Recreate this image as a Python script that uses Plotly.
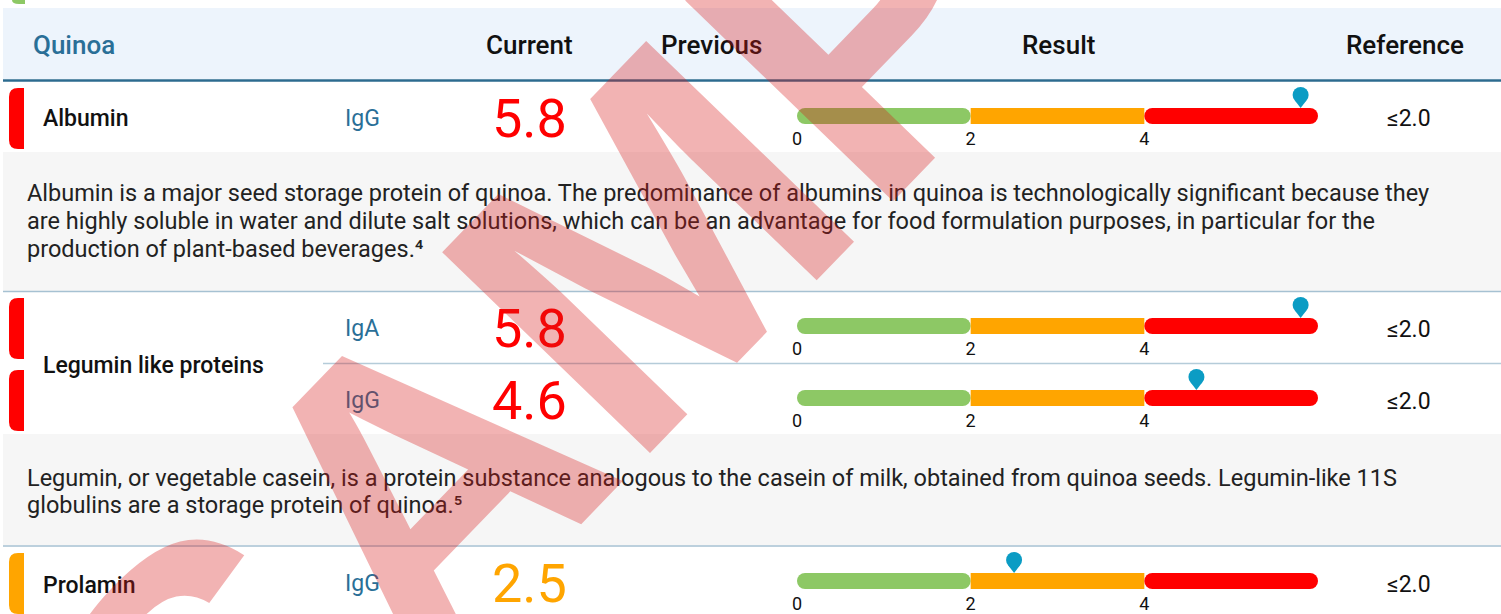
import plotly.graph_objects as go

W, H = 1501, 614

# ---------------- data ----------------
section_title = "Quinoa"
column_titles = ["Current", "Previous", "Result", "Reference"]
allergens = ["Albumin", "Legumin like proteins", "Prolamin"]
antibodies = ["IgG", "IgA", "IgG", "IgG"]
current_values = [5.8, 5.8, 4.6, 2.5]
reference_ranges = ["≤2.0", "≤2.0", "≤2.0", "≤2.0"]
scale_bounds = [0, 2, 4, 6]
scale_ticks = [0, 2, 4]
scale_tick_labels = ["0", "2", "4"]
description_albumin = [
    "Albumin is a major seed storage protein of quinoa. The predominance of albumins in quinoa is technologically significant because they",
    "are highly soluble in water and dilute salt solutions, which can be an advantage for food formulation purposes, in particular for the",
    "production of plant-based beverages.⁴",
]
description_legumin = [
    "Legumin, or vegetable casein, is a protein substance analogous to the casein of milk, obtained from quinoa seeds. Legumin-like 11S",
    "globulins are a storage protein of quinoa.⁵",
]
watermark_text = "SAMPLE"

# ---------------- styling / layout ----------------
SEG_COLORS = ["#8DC865", "#FFA500", "#FF0000"]
PIN_COLOR = "#0B9CC4"
BLUE_TXT = "#2A6F97"
FONT = "Roboto"

row_tops = [82, 292, 364, 547]
label_y = [119, 365, 585]
desc_bands = [(152, 291), (434, 545)]
desc_line_y = [[193, 221, 249], [478, 505]]


def X(px):
    return px / W


def Y(py):
    return 1 - py / H


def status_color(v):
    for k in range(len(scale_bounds) - 1):
        if v < scale_bounds[k + 1]:
            return SEG_COLORS[k]
    return SEG_COLORS[-1]


def ann(text, x, y, size, color, xanchor="left", weight=400, family=FONT):
    return dict(text=text, x=X(x), y=Y(y), xref="paper", yref="paper",
                xanchor=xanchor, yanchor="middle", showarrow=False,
                font=dict(family=family, size=size, color=color, weight=weight))


shapes = []
annotations = []

# header band
shapes.append(dict(type="rect", xref="paper", yref="paper", x0=X(3), x1=X(W), y0=Y(79), y1=Y(8),
                   fillcolor="#EDF4FC", line=dict(width=0), layer="below"))
shapes.append(dict(type="line", xref="paper", yref="paper", x0=X(3), x1=X(W), y0=Y(80.5), y1=Y(80.5),
                   line=dict(color="#2C6B8F", width=2.5), layer="below"))
# remains of the previous section pill at the top
shapes.append(dict(type="path", xref="paper", yref="paper",
                   path=f"M {X(12)},{Y(0)} L {X(25)},{Y(0)} L {X(25)},{Y(4)} L {X(19)},{Y(4)} Q {X(12)},{Y(4)} {X(12)},{Y(0)} Z",
                   fillcolor="#8DC865", line=dict(width=0), layer="below"))

# description bands and separators
for (y0, y1) in desc_bands:
    shapes.append(dict(type="rect", xref="paper", yref="paper", x0=X(3), x1=X(W), y0=Y(y1), y1=Y(y0),
                       fillcolor="#F6F6F6", line=dict(width=0), layer="below"))
for ys in [291.5, 546]:
    shapes.append(dict(type="line", xref="paper", yref="paper", x0=X(3), x1=X(W), y0=Y(ys), y1=Y(ys),
                       line=dict(color="#A6C1D2", width=1.5), layer="below"))
shapes.append(dict(type="line", xref="paper", yref="paper", x0=X(323), x1=X(W), y0=Y(363.5), y1=Y(363.5),
                   line=dict(color="#B5CCD9", width=1.5), layer="below"))

# header titles
annotations.append(ann(section_title, 31, 45, 26, BLUE_TXT, weight=500))
for title, cx in zip(column_titles, [529, 711, 1058, 1405]):
    annotations.append(ann(title, cx, 45, 26, "#111111", xanchor="center", weight=500))

# allergen names
for name, ly in zip(allergens, label_y):
    annotations.append(ann(name, 41, ly, 23, "#111111", weight=500))

# descriptions
for lines, ys in zip([description_albumin, description_legumin], desc_line_y):
    for line, yy in zip(lines, ys):
        annotations.append(ann(line, 25, yy, 23.5, "#222222"))

fig = go.Figure()

GAUGE_H = 44              # px height of each gauge plot area
BAR_Y = 10                # bar centre (px above plot bottom)
PIN_Y_CIRCLE = 31
PIN_Y_TRI = 23
GX0, GX1 = 780, 1340      # gauge subplot horizontal domain (px)
S0, S1 = 797, 1318        # pixel positions of scale start / end
scale_px = (S1 - S0) / (scale_bounds[-1] - scale_bounds[0])
x_range = [scale_bounds[0] - (S0 - GX0) / scale_px, scale_bounds[-1] + (GX1 - S1) / scale_px]

for i, (ab, val, ref) in enumerate(zip(antibodies, current_values, reference_ranges)):
    top = row_tops[i]
    col = status_color(val)
    # status pill
    x0p, x1p, r = 9, 24, 9
    py0, py1 = top + 6, top + 67
    shapes.append(dict(type="path", xref="paper", yref="paper",
                       path=(f"M {X(x1p)},{Y(py0)} L {X(x0p + r)},{Y(py0)} Q {X(x0p)},{Y(py0)} {X(x0p)},{Y(py0 + r)} "
                             f"L {X(x0p)},{Y(py1 - r)} Q {X(x0p)},{Y(py1)} {X(x0p + r)},{Y(py1)} L {X(x1p)},{Y(py1)} Z"),
                       fillcolor=col, line=dict(width=0), layer="below"))
    # texts
    annotations.append(ann(ab, 343, top + 36.5, 23, BLUE_TXT))
    annotations.append(ann(f"{val:.1f}", 529, top + 36.5, 54, col, xanchor="center"))
    annotations.append(ann(ref, 1409, top + 37, 23, "#111111", xanchor="center"))

    sfx = "" if i == 0 else str(i + 1)
    xa, ya = "x" + sfx, "y" + sfx
    nseg = len(scale_bounds) - 1
    for k in range(nseg):
        if k == 0:
            base, length = scale_bounds[1], scale_bounds[0] - scale_bounds[1]
        else:
            base, length = scale_bounds[k], scale_bounds[k + 1] - scale_bounds[k]
        fig.add_trace(go.Bar(x=[length], base=[base], y=[BAR_Y], width=16, orientation="h",
                             marker=dict(color=SEG_COLORS[k], line=dict(width=0),
                                         cornerradius=8 if k in (0, nseg - 1) else 0),
                             xaxis=xa, yaxis=ya, showlegend=False, hoverinfo="skip"))
    fig.add_trace(go.Scatter(x=[val], y=[PIN_Y_TRI], mode="markers",
                             marker=dict(symbol="triangle-down", size=10, color=PIN_COLOR, line=dict(width=0)),
                             xaxis=xa, yaxis=ya, showlegend=False, hoverinfo="skip", cliponaxis=False))
    fig.add_trace(go.Scatter(x=[val], y=[PIN_Y_CIRCLE], mode="markers",
                             marker=dict(symbol="circle", size=16, color=PIN_COLOR, line=dict(width=0)),
                             xaxis=xa, yaxis=ya, showlegend=False, hoverinfo="skip", cliponaxis=False))

    fig.layout["xaxis" + sfx] = dict(domain=[X(GX0), X(GX1)], range=x_range, anchor=ya,
                                    tickvals=scale_ticks, ticktext=scale_tick_labels, ticks="",
                                    showgrid=False, zeroline=False, showline=False, fixedrange=True,
                                    tickfont=dict(family=FONT, size=18, color="#111111"))
    fig.layout["yaxis" + sfx] = dict(domain=[Y(top + GAUGE_H), Y(top)], range=[0, GAUGE_H], anchor=xa,
                                    visible=False, fixedrange=True)

# watermark
annotations.append(dict(text=watermark_text, x=X(728), y=Y(162), xref="paper", yref="paper",
                        xanchor="center", yanchor="middle", showarrow=False, textangle=-46,
                        font=dict(family="Liberation Sans", size=420, weight=700, color="rgba(215,25,25,0.33)")))

fig.update_layout(width=W, height=H, margin=dict(l=0, r=0, t=0, b=0),
                  paper_bgcolor="white", plot_bgcolor="rgba(0,0,0,0)",
                  barmode="overlay", shapes=shapes, annotations=annotations, showlegend=False)

fig.write_html("out.html", config={"displayModeBar": False},
               post_script="document.body.style.margin='0';document.body.style.overflow='hidden';")
